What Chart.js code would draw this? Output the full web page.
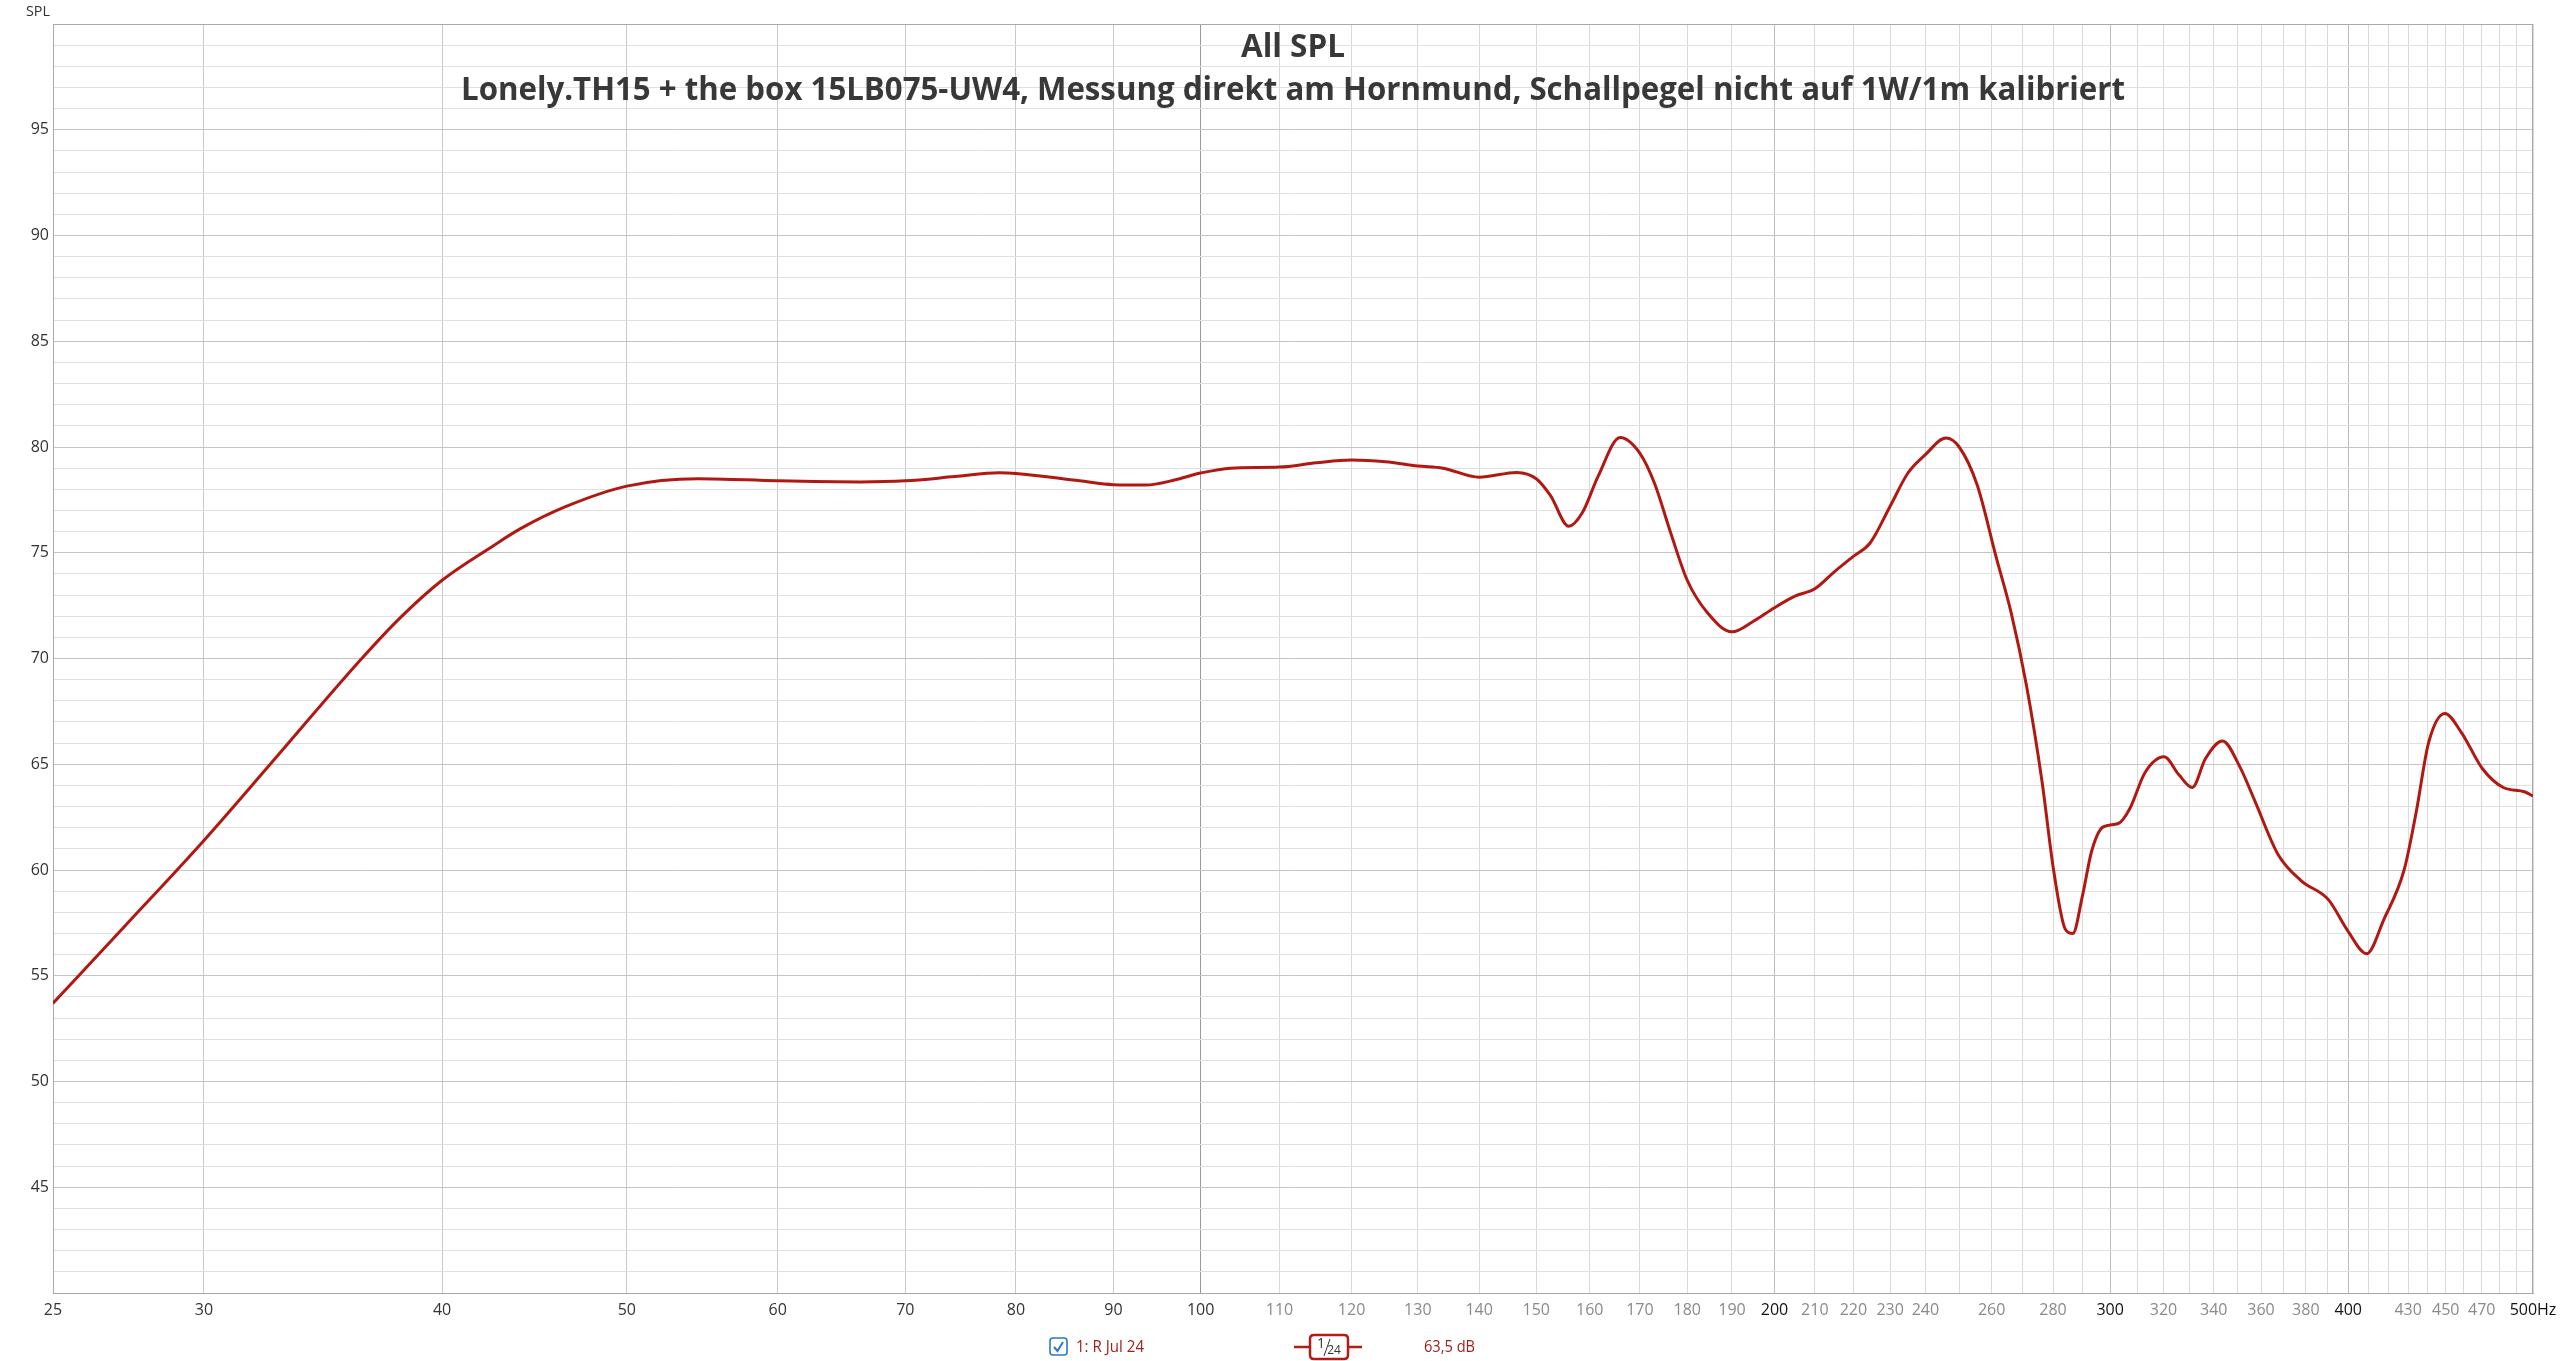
<!DOCTYPE html>
<html><head><meta charset="utf-8">
<script src="https://cdn.jsdelivr.net/npm/chart.js@4/dist/chart.umd.min.js"></script>
<style>html,body{margin:0;padding:0;background:#fff;overflow:hidden}#wrap{width:2560px;height:1361px}</style>
</head><body><div id="wrap"><canvas id="c" width="2560" height="1361"></canvas></div>
<script>
const frequencies = [25,27.3,30,32.5,36.3,38,40,42.5,44,46.5,50,54.5,60,66.3,70,74.3,78.4,80,86.4,90,93.6,97,100,103.7,110,115,120,125,130,134,140,146.5,150,152.6,156,158.6,161.6,166,170,173,176.5,180,184.5,190,195,200,205,210,215,220,224.5,230,235,240,246,250,255.5,261.4,266.3,271.2,276.3,280.2,284.2,286.8,290.1,293.4,297.5,303,307.2,312.9,320.2,326,331.3,336.6,343.6,350.8,357.3,367.4,377.8,390.5,399.9,409,417.6,427.9,434.2,440.7,449.5,458.6,470.3,482.4,494.8,500];
const splValues = [53.7,57.4,61.4,65.0,70.0,71.9,73.7,75.3,76.15,77.2,78.15,78.5,78.4,78.35,78.4,78.6,78.78,78.75,78.4,78.22,78.2,78.45,78.77,79.0,79.05,79.25,79.38,79.3,79.1,79.0,78.57,78.8,78.5,77.7,76.25,76.9,78.6,80.45,79.7,78.3,75.9,73.7,72.15,71.26,71.76,72.4,72.95,73.3,74.1,74.83,75.46,77.2,78.77,79.64,80.42,80.0,78.2,74.8,72.1,68.7,64.2,60.0,57.2,57.0,58.75,60.9,62.04,62.2,62.9,64.6,65.35,64.5,63.9,65.26,66.1,64.9,63.27,60.75,59.5,58.6,57.1,56.04,57.67,60.0,62.73,66.0,67.4,66.5,64.8,63.9,63.7,63.5];
const xTickValues = [25,30,40,50,60,70,80,90,100,110,120,130,140,150,160,170,180,190,200,210,220,230,240,250,260,270,280,290,300,310,320,330,340,350,360,370,380,390,400,410,420,430,440,450,460,470,480,490,500];
const xLabeledTicks = [25,30,40,50,60,70,80,90,100,110,120,130,140,150,160,170,180,190,200,210,220,230,240,260,280,300,320,340,360,380,400,430,450,470,500];
const xStrongTicks = [25,30,40,50,60,70,80,90,100,200,300,400,500];
const yMin = 40, yMax = 100;
const yTickLabels = [45,50,55,60,65,70,75,80,85,90,95];
const titleText = 'All SPL';
const subtitleText = 'Lonely.TH15 + the box 15LB075-UW4, Messung direkt am Hornmund, Schallpegel nicht auf 1W/1m kalibriert';
const yAxisTitle = 'SPL';
const legendName = '1: R Jul 24';
const legendSmoothing = ['1', '24'];
const legendValue = '63,5 dB';

const FONT = "'Open Sans', 'Noto Sans', sans-serif";
const LINE = 'rgb(178,24,18)';

const decor = {
  id: 'decor',
  beforeDatasetsDraw(chart) {
    const {ctx, chartArea: a} = chart;
    ctx.save();
    ctx.strokeStyle = '#a9a9a9';
    ctx.lineWidth = 1;
    ctx.strokeRect(a.left + 0.5, a.top + 0.5, a.right - a.left - 1, a.bottom - a.top);
    ctx.restore();
  },
  afterDraw(chart) {
    const {ctx, chartArea: a} = chart;
    const cx = (a.left + a.right) / 2;
    ctx.save();
    ctx.fillStyle = '#383838';
    ctx.textAlign = 'center';
    ctx.textBaseline = 'alphabetic';
    ctx.font = "bold 33px " + FONT;
    ctx.fillText(titleText, cx, 57, 104);
    ctx.font = "bold 32px " + FONT;
    ctx.fillText(subtitleText, cx, 100, 1664);
    ctx.fillStyle = '#333';
    ctx.font = "15px " + FONT;
    ctx.textAlign = 'right';
    ctx.fillText(yAxisTitle, 50, 16, 24);
    const ly = 1347;
    ctx.strokeStyle = '#2b78c9';
    ctx.lineWidth = 1.6;
    const bx = 1050, by = ly - 9, bs = 17, r = 3;
    ctx.beginPath();
    ctx.moveTo(bx + r, by); ctx.lineTo(bx + bs - r, by); ctx.quadraticCurveTo(bx + bs, by, bx + bs, by + r);
    ctx.lineTo(bx + bs, by + bs - r); ctx.quadraticCurveTo(bx + bs, by + bs, bx + bs - r, by + bs);
    ctx.lineTo(bx + r, by + bs); ctx.quadraticCurveTo(bx, by + bs, bx, by + bs - r);
    ctx.lineTo(bx, by + r); ctx.quadraticCurveTo(bx, by, bx + r, by);
    ctx.stroke();
    ctx.lineWidth = 2;
    ctx.beginPath();
    ctx.moveTo(bx + 4, by + 9); ctx.lineTo(bx + 7.5, by + 13); ctx.lineTo(bx + 13, by + 4);
    ctx.stroke();
    ctx.fillStyle = '#a3201a';
    ctx.font = "16px " + FONT;
    ctx.textAlign = 'left';
    ctx.textBaseline = 'middle';
    ctx.fillText(legendName, 1076, ly, 68);
    ctx.strokeStyle = '#b01c16';
    ctx.lineWidth = 2.5;
    ctx.beginPath(); ctx.moveTo(1294, ly); ctx.lineTo(1310, ly); ctx.moveTo(1348, ly); ctx.lineTo(1362, ly); ctx.stroke();
    const rx = 1310, ry = ly - 12, rw = 38, rh = 24, rr = 4;
    ctx.beginPath();
    ctx.moveTo(rx + rr, ry); ctx.lineTo(rx + rw - rr, ry); ctx.quadraticCurveTo(rx + rw, ry, rx + rw, ry + rr);
    ctx.lineTo(rx + rw, ry + rh - rr); ctx.quadraticCurveTo(rx + rw, ry + rh, rx + rw - rr, ry + rh);
    ctx.lineTo(rx + rr, ry + rh); ctx.quadraticCurveTo(rx, ry + rh, rx, ry + rh - rr);
    ctx.lineTo(rx, ry + rr); ctx.quadraticCurveTo(rx, ry, rx + rr, ry);
    ctx.fillStyle = '#fff'; ctx.fill(); ctx.stroke();
    ctx.fillStyle = '#333';
    ctx.font = "14px " + FONT;
    ctx.textAlign = 'center';
    ctx.fillText(legendSmoothing[0], rx + 11, ly - 3);
    ctx.font = "12px " + FONT;
    ctx.fillText(legendSmoothing[1], rx + 24, ly + 4);
    ctx.strokeStyle = '#333'; ctx.lineWidth = 1;
    ctx.beginPath(); ctx.moveTo(rx + 20, ry + 4); ctx.lineTo(rx + 14, ry + rh - 3); ctx.stroke();
    ctx.fillStyle = '#a3201a';
    ctx.font = "16px " + FONT;
    ctx.textAlign = 'left';
    ctx.fillText(legendValue, 1424, ly, 51);
    ctx.restore();
  }
};

new Chart(document.getElementById('c'), {
  type: 'line',
  data: {
    datasets: [{
      data: frequencies.map((f, i) => ({x: f, y: splValues[i]})),
      borderColor: LINE,
      borderWidth: 3,
      pointRadius: 0,
      cubicInterpolationMode: 'monotone',
      fill: false
    }]
  },
  options: {
    responsive: false,
    animation: false,
    devicePixelRatio: 1,
    layout: {padding: {top: 24, right: 27, left: 0, bottom: 0}},
    plugins: {legend: {display: false}, tooltip: {enabled: false}, title: {display: false}},
    scales: {
      x: {
        type: 'logarithmic', min: 25, max: 500,
        afterBuildTicks: s => { s.ticks = xTickValues.map(v => ({value: v})); },
        afterFit: s => { s.height = 68; s.paddingLeft = 0; s.paddingRight = 0; },
        ticks: {
          autoSkip: false, maxRotation: 0, minRotation: 0, padding: 8,
          font: {family: FONT, size: 16},
          color: c => {
            const v = c.tick.value;
            if (v >= 200 && xStrongTicks.includes(v)) return '#111';
            return xStrongTicks.includes(v) ? '#333' : '#8a8a8a';
          },
          callback: v => xLabeledTicks.includes(v) ? (v === 500 ? '500Hz' : String(v)) : ''
        },
        grid: {
          drawTicks: false,
          color: c => {
            const v = c.tick && c.tick.value;
            if (v === 100) return '#9a9a9a';
            if (v === 200 || v === 300 || v === 400) return '#bcbcbc';
            if (v < 100) return '#c9c9c9';
            return '#dadada';
          },
          lineWidth: 1
        },
        border: {color: '#a9a9a9', width: 1}
      },
      y: {
        type: 'linear', min: yMin, max: yMax,
        afterBuildTicks: s => { const t = []; for (let v = yMin; v <= yMax; v++) t.push({value: v}); s.ticks = t; },
        afterFit: s => { s.width = 53; s.paddingTop = 0; s.paddingBottom = 0; },
        ticks: {
          autoSkip: false, padding: 4,
          font: {family: FONT, size: 16}, color: '#333',
          callback: v => yTickLabels.includes(v) ? String(v) : ''
        },
        grid: {
          drawTicks: false,
          color: c => (c.tick && c.tick.value % 5 === 0) ? '#c4c4c4' : '#e0e0e0',
          lineWidth: 1
        },
        border: {color: '#a9a9a9', width: 1}
      }
    }
  },
  plugins: [decor]
});
</script>
</body></html>
